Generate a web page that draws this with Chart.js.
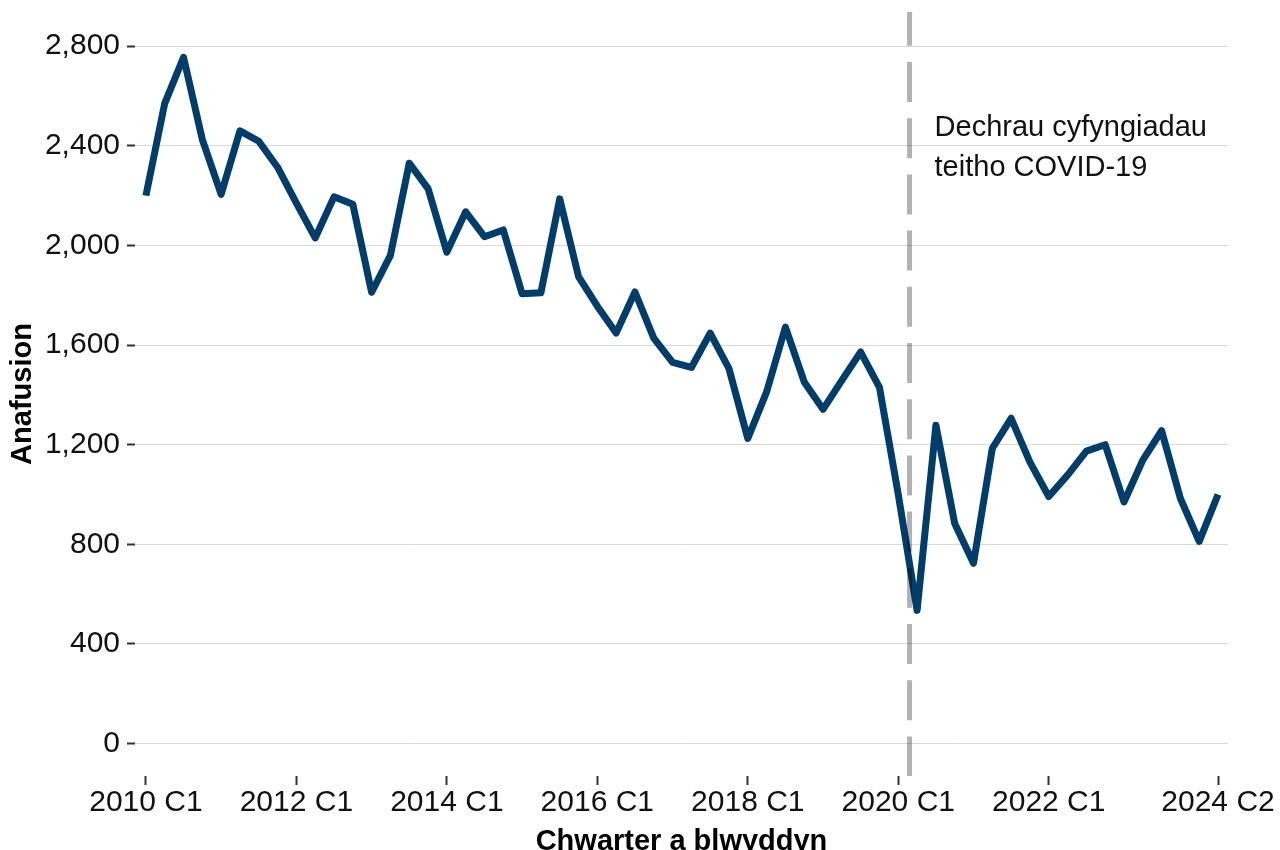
<!DOCTYPE html>
<html>
<head>
<meta charset="utf-8">
<script src="https://cdn.jsdelivr.net/npm/chart.js@4.4.1/dist/chart.umd.min.js"></script>
<style>
  html, body { margin: 0; padding: 0; background: #ffffff; }
  #wrap { width: 1280px; height: 850px; position: relative; }
</style>
</head>
<body>
<div id="wrap"><canvas id="c" width="1280" height="850"></canvas></div>
<script>
const quarters = [
  "2010 C1","2010 C2","2010 C3","2010 C4",
  "2011 C1","2011 C2","2011 C3","2011 C4",
  "2012 C1","2012 C2","2012 C3","2012 C4",
  "2013 C1","2013 C2","2013 C3","2013 C4",
  "2014 C1","2014 C2","2014 C3","2014 C4",
  "2015 C1","2015 C2","2015 C3","2015 C4",
  "2016 C1","2016 C2","2016 C3","2016 C4",
  "2017 C1","2017 C2","2017 C3","2017 C4",
  "2018 C1","2018 C2","2018 C3","2018 C4",
  "2019 C1","2019 C2","2019 C3","2019 C4",
  "2020 C1","2020 C2","2020 C3","2020 C4",
  "2021 C1","2021 C2","2021 C3","2021 C4",
  "2022 C1","2022 C2","2022 C3","2022 C4",
  "2023 C1","2023 C2","2023 C3","2023 C4",
  "2024 C1","2024 C2"
];

const casualties = [
  2200, 2570, 2755, 2425,
  2205, 2460, 2418, 2314,
  2170, 2030, 2195, 2165,
  1812, 1960, 2330, 2228,
  1973, 2135, 2035, 2062,
  1806, 1810, 2187, 1875,
  1756, 1648, 1813, 1628,
  1530, 1510, 1648, 1505,
  1225, 1412, 1672, 1452,
  1342, 1458, 1572, 1430,
  1000, 535, 1278, 884,
  724, 1185, 1306, 1130,
  992, 1078, 1174, 1200,
  970, 1138, 1256, 984,
  812, 1000
];

const xTickIndices = [0, 8, 16, 24, 32, 40, 48, 57];
const yTickValues = [0, 400, 800, 1200, 1600, 2000, 2400, 2800];

const covidStart = 40.6;
const annotationLines = ["Dechrau cyfyngiadau", "teitho COVID-19"];

const FONT = "'Liberation Sans', Arial, Helvetica, sans-serif";

const covidPlugin = {
  id: 'covidLine',
  afterDatasetsDraw(chart) {
    const ctx = chart.ctx;
    const xs = chart.scales.x;
    const area = chart.chartArea;
    const x = xs.getPixelForValue(covidStart);
    ctx.save();
    ctx.strokeStyle = 'rgba(0,0,0,0.3)';
    ctx.lineWidth = 5;
    ctx.setLineDash([40, 16.2]);
    ctx.lineDashOffset = 6.2;
    ctx.beginPath();
    ctx.moveTo(x, area.top);
    ctx.lineTo(x, area.bottom);
    ctx.stroke();
    ctx.setLineDash([]);
    ctx.fillStyle = '#111111';
    ctx.font = "29px " + FONT;
    ctx.textAlign = 'left';
    ctx.textBaseline = 'alphabetic';
    annotationLines.forEach((t, i) => {
      ctx.fillText(t, x + 25, area.top + 124 + i * 40);
    });
    ctx.restore();
  }
};

new Chart(document.getElementById('c'), {
  type: 'line',
  data: {
    datasets: [{
      data: casualties.map((v, i) => ({ x: i, y: v })),
      borderColor: '#003d6b',
      borderWidth: 7,
      pointRadius: 0,
      pointHoverRadius: 0,
      tension: 0,
      borderJoinStyle: 'round',
      borderCapStyle: 'butt',
      fill: false
    }]
  },
  options: {
    responsive: false,
    animation: false,
    devicePixelRatio: 1,
    layout: { padding: { top: 12, right: 52, left: 0, bottom: 0 } },
    plugins: {
      legend: { display: false },
      tooltip: { enabled: false }
    },
    scales: {
      x: {
        type: 'linear',
        min: -0.58,
        max: 57.53,
        border: { display: false },
        grid: {
          drawOnChartArea: false,
          drawTicks: true,
          tickLength: 9,
          tickColor: '#333333',
          tickWidth: 2
        },
        afterBuildTicks(scale) {
          scale.ticks = xTickIndices.map(v => ({ value: v }));
        },
        afterFit(scale) {
          scale.height = 74;
          scale.paddingLeft = 0;
          scale.paddingRight = 0;
        },
        ticks: {
          autoSkip: false,
          maxRotation: 0,
          padding: 0,
          color: '#111111',
          font: { family: FONT, size: 30 },
          callback: (v) => quarters[v]
        },
        title: {
          display: true,
          text: 'Chwarter a blwyddyn',
          color: '#000000',
          font: { family: FONT, size: 29, weight: 'bold', lineHeight: 1 },
          padding: { top: -6, bottom: -6 }
        }
      },
      y: {
        type: 'linear',
        min: -130,
        max: 2937,
        border: { display: false },
        grid: {
          color: '#d9d9d9',
          lineWidth: 1,
          drawTicks: true,
          tickLength: 8,
          tickColor: '#333333',
          tickWidth: 2
        },
        afterBuildTicks(scale) {
          scale.ticks = yTickValues.map(v => ({ value: v }));
        },
        afterFit(scale) {
          scale.width = 135;
          scale.paddingTop = 0;
          scale.paddingBottom = 0;
        },
        ticks: {
          padding: 7,
          color: '#111111',
          font: { family: FONT, size: 30 },
          callback: (v) => v.toLocaleString('en-US')
        },
        title: {
          display: true,
          text: 'Anafusion',
          color: '#000000',
          font: { family: FONT, size: 29, weight: 'bold', lineHeight: 1.2 },
          padding: { top: 6, bottom: 2 }
        }
      }
    }
  },
  plugins: [covidPlugin]
});
</script>
</body>
</html>
